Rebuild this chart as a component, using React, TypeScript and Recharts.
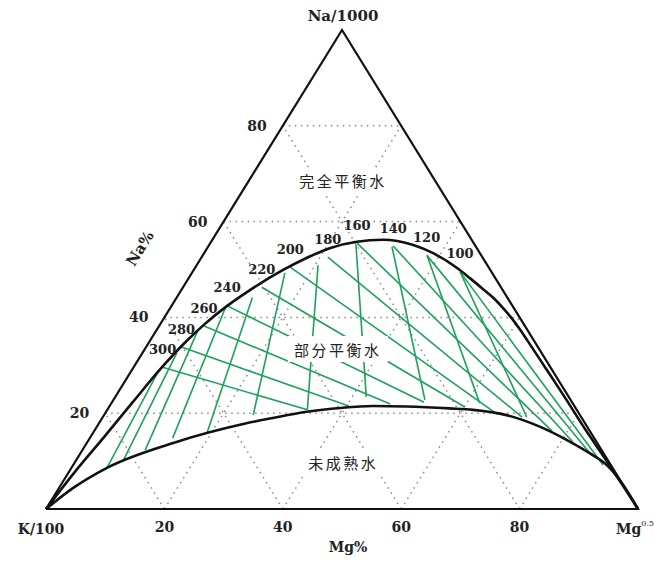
import { ComposedChart, Line, Scatter, XAxis, YAxis } from 'recharts';

// ternary points are [Mg%, Na%]  (K% = 100 - Mg - Na)
const gridLevels = [20, 40, 60, 80];
const bottomTicks = [20, 40, 60, 80];
const leftTicks = [20, 40, 60, 80];
const temps = [300, 280, 260, 240, 220, 200, 180, 160, 140, 120, 100];

// full equilibrium line (upper curve)
const fullEquil = [
  [0, 0], [1.0, 7.7], [2.3, 15.0], [3.5, 22.3], [4.8, 29.6], [6.1, 34.7],
  [7.5, 38.6], [9.4, 42.4], [11.6, 45.7], [15.1, 49.9], [17.8, 52.4],
  [20.8, 54.5], [24.6, 55.8], [28.8, 56.2], [34.5, 55.1], [38.7, 53.4],
  [44.3, 50.3], [47.5, 48.2], [50.6, 46.1], [53.5, 44.1], [56.3, 41.9],
  [58.9, 39.7], [61.4, 37.4], [63.7, 35.2], [69.6, 29.5], [76.1, 23.2],
  [82.6, 16.8], [89.2, 10.5], [95.7, 4.2], [100, 0],
];

// boundary of immature waters (lower curve)
const immature = [
  [0, 0], [2.4, 4.4], [6.0, 8.6], [14.6, 13.8], [24.6, 17.8], [28.8, 19.0],
  [33.9, 20.3], [39.2, 21.1], [44.5, 21.5], [50.2, 21.4], [57.7, 21.0],
  [61.8, 20.7], [68.0, 19.6], [74.8, 17.2], [80.8, 14.4], [86.1, 11.6],
  [90.1, 9.2], [95.0, 5.0], [100, 0],
];

// K-Na isotherms, one per temperature (run toward the Mg corner)
const tknFrom = [
  [4.9, 29.6], [6.0, 33.8], [7.6, 38.2], [9.4, 42.4], [13.3, 46.3], [16.0, 50.5],
  [21.3, 52.6], [24.8, 55.5], [31.2, 54.9], [37.8, 53.0], [45.2, 49.5],
];
const tknTo = [
  [33.8, 20.7], [40.4, 21.5], [47.2, 21.9], [52.7, 22.3], [60.1, 21.3], [66.3, 19.8],
  [70.8, 19.2], [77.3, 16.3], [82.0, 14.0], [86.0, 11.7], [89.5, 9.2],
];

// K-Mg isotherms (run away from the Na corner)
const tkmFrom = [
  [4.6, 28.6], [5.8, 32.6], [7.0, 37.4], [9.3, 42.0], [12.8, 44.1], [15.7, 49.3],
  [20.5, 50.9], [24.7, 55.3], [31.1, 54.7], [38.0, 52.8], [45.2, 49.5],
];
const tkmTo = [
  [6.0, 8.6], [8.0, 10.0], [10.6, 12.3], [14.0, 14.8], [19.2, 16.1], [25.2, 19.6],
  [33.8, 20.7], [42.4, 23.4], [52.6, 22.8], [62.2, 22.1], [71.6, 19.2],
];

const zones = ['完全平衡水', '部分平衡水', '未成熟水'];
const zoneAt = [[15.9, 68.5], [32.6, 33.4], [45.3, 9.8]];

const tern = ([mg, na]: number[]) => ({ x: mg + na / 2, y: na });

const serif = '"DejaVu Serif", serif';
const green = '#1ea15a';

const gridSegs = gridLevels.flatMap((v) => [
  [[0, v], [100 - v, v]],
  [[v, 0], [v, 100 - v]],
  [[100 - v, 0], [0, 100 - v]],
]);

const outline = [[0, 0], [100, 0], [0, 100], [0, 0]];

const seg = (key: string, pts: number[][], stroke: string, width: number, extra: any = {}) => (
  <Line
    key={key}
    data={pts.map(tern)}
    dataKey="y"
    stroke={stroke}
    strokeWidth={width}
    dot={false}
    activeDot={false}
    isAnimationActive={false}
    {...extra}
  />
);

const txt = (dx: number, dy: number, size: number, anchor = 'middle') => (p: any) => (
  <text
    x={p.cx + dx}
    y={p.cy + dy}
    textAnchor={anchor}
    dominantBaseline="central"
    fontFamily={serif}
    fontWeight="bold"
    fontSize={size}
    fill="#222"
  >
    {p.payload.label}
  </text>
);

const ZoneLabel = (p: any) => {
  const w = p.payload.label.length * 18 + 10;
  return (
    <g>
      <rect x={p.cx - w / 2} y={p.cy - 13} width={w} height={26} fill="#fff" />
      <text
        x={p.cx}
        y={p.cy}
        textAnchor="middle"
        dominantBaseline="central"
        fontFamily='"Noto Sans CJK SC", sans-serif'
        fontSize={15}
        letterSpacing={2.5}
        fill="#222"
      >
        {p.payload.label}
      </text>
    </g>
  );
};

export default function App() {
  const tempLabels = temps.map((t, i) => ({ ...tern(tknFrom[i]), label: t }));
  const bottomLabels = bottomTicks.map((v) => ({ ...tern([v, 0]), label: v }));
  const leftLabels = leftTicks.map((v) => ({ ...tern([0, v]), label: v }));
  const zoneLabels = zones.map((z, i) => ({ ...tern(zoneAt[i]), label: z }));

  return (
    <div style={{ position: 'absolute', left: 0, top: 0, background: '#fff' }}>
      <ComposedChart width={654} height={564} margin={{ top: 30, right: 16, bottom: 55, left: 46 }}>
        <XAxis type="number" dataKey="x" domain={[0, 100]} hide />
        <YAxis type="number" dataKey="y" domain={[0, 100]} hide />

        {gridSegs.map((s, i) => seg('g' + i, s, '#8a8a8a', 1.5, { strokeDasharray: '1.5 4.5' }))}

        {temps.map((t, i) => seg('a' + t, [tknFrom[i], tknTo[i]], green, 1.6))}
        {temps.map((t, i) => seg('b' + t, [tkmFrom[i], tkmTo[i]], green, 1.6))}

        {seg('full', fullEquil, '#111', 2.6, { type: 'monotone' })}
        {seg('imm', immature, '#111', 2.6, { type: 'monotone' })}
        {seg('tri', outline, '#111', 2.2)}

        <Scatter data={tempLabels} shape={txt(0, -18, 13)} isAnimationActive={false} />
        <Scatter data={bottomLabels} shape={txt(0, 18, 14)} isAnimationActive={false} />
        <Scatter data={leftLabels} shape={txt(-16, 0, 14, 'end')} isAnimationActive={false} />
        <Scatter data={zoneLabels} shape={ZoneLabel} isAnimationActive={false} />

        <Scatter data={[{ ...tern([0, 0]), label: 'K/100' }]} shape={txt(-5, 20, 14)} isAnimationActive={false} />
        <Scatter data={[{ ...tern([0, 100]), label: 'Na/1000' }]} shape={txt(1, -14, 15)} isAnimationActive={false} />
        <Scatter data={[{ ...tern([50, 0]), label: 'Mg%' }]} shape={txt(6, 38, 14)} isAnimationActive={false} />
        <Scatter
          data={[{ ...tern([100, 0]), label: 'Mg' }]}
          isAnimationActive={false}
          shape={(p: any) => (
            <text x={p.cx - 22} y={p.cy + 20} dominantBaseline="central" fontFamily={serif} fontWeight="bold" fontSize={14} fill="#222">
              {p.payload.label}
              <tspan fontSize={8} fontWeight="normal" dy={-6}>0.5</tspan>
            </text>
          )}
        />
        <Scatter
          data={[{ ...tern([0, 50]), label: 'Na%' }]}
          isAnimationActive={false}
          shape={(p: any) => (
            <text
              x={p.cx - 54}
              y={p.cy - 21}
              textAnchor="middle"
              dominantBaseline="central"
              fontFamily={serif}
              fontWeight="bold"
              fontSize={15}
              fill="#222"
              transform={`rotate(-58 ${p.cx - 54} ${p.cy - 21})`}
            >
              {p.payload.label}
            </text>
          )}
        />
      </ComposedChart>
    </div>
  );
}
